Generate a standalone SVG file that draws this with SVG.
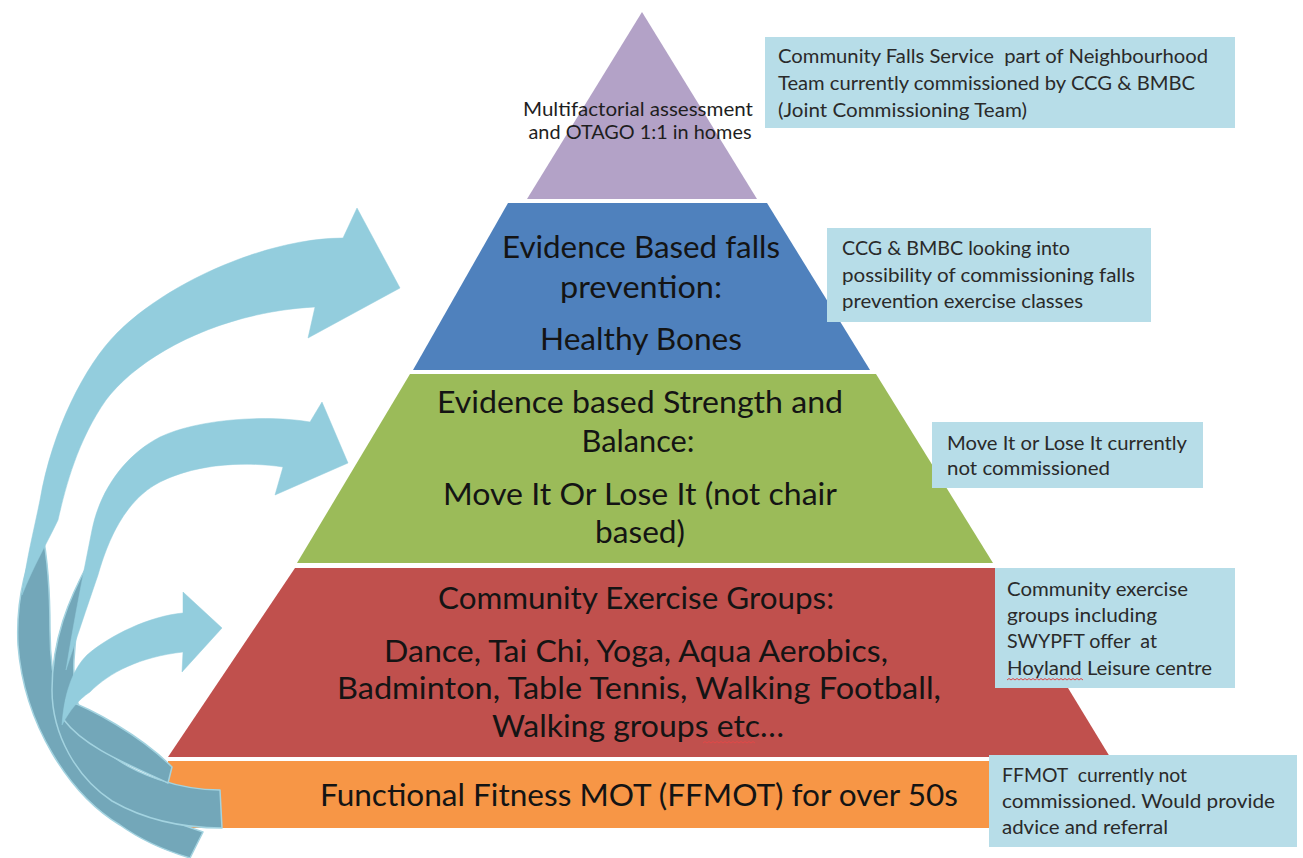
<svg xmlns="http://www.w3.org/2000/svg" width="1303" height="858" viewBox="0 0 1303 858">
  <style>
    text { font-family: Lato, "Liberation Sans", sans-serif; white-space: pre; }
    .lvl { font-size: 30px; fill: #141414; text-anchor: middle; }
    .top { font-size: 20px; fill: #1e1e1e; text-anchor: middle; }
    .note { font-size: 19.5px; fill: #2a2a2a; }
    .box { fill: #B7DDE8; }
    .back { fill: #73A7B9; stroke: #A3D3E0; stroke-width: 1.5; stroke-linejoin: round; }
    .front { fill: #93CDDD; stroke: #93CDDD; stroke-width: 0.5; stroke-linejoin: round; }
    .squiggle { fill: none; stroke: #E04848; stroke-width: 1; }
  </style>

  <rect x="0" y="0" width="1303" height="858" fill="#FFFFFF"/>

  <!-- pyramid tiers -->
  <g id="tier-multifactorial">
    <polygon points="642,12 757,199 527,199" fill="#B3A2C7"/>
    <text class="top" x="638" y="116" textLength="230" lengthAdjust="spacingAndGlyphs">Multifactorial assessment</text>
    <text class="top" x="640" y="139" textLength="223" lengthAdjust="spacingAndGlyphs">and OTAGO 1:1 in homes</text>
  </g>

  <g id="tier-healthy-bones">
    <polygon points="508,203 767,203 870,370 413,370" fill="#4F81BD"/>
    <text class="lvl" x="641" y="258" textLength="278" lengthAdjust="spacingAndGlyphs">Evidence Based falls</text>
    <text class="lvl" x="641" y="298" textLength="162" lengthAdjust="spacingAndGlyphs">prevention:</text>
    <text class="lvl" x="641" y="350" textLength="202" lengthAdjust="spacingAndGlyphs">Healthy Bones</text>
  </g>

  <g id="tier-strength-balance">
    <polygon points="410,374 876,374 993,563 297,563" fill="#9BBB59"/>
    <text class="lvl" x="640" y="413" textLength="406" lengthAdjust="spacingAndGlyphs">Evidence based Strength and</text>
    <text class="lvl" x="638" y="452" textLength="113" lengthAdjust="spacingAndGlyphs">Balance:</text>
    <text class="lvl" x="640" y="505" textLength="394" lengthAdjust="spacingAndGlyphs">Move It Or Lose It (not chair</text>
    <text class="lvl" x="640" y="543" textLength="90" lengthAdjust="spacingAndGlyphs">based)</text>
  </g>

  <g id="tier-community-exercise">
    <polygon points="295,568 995,568 1110,757 168,757" fill="#C0504D"/>
    <text class="lvl" x="636" y="609" textLength="396" lengthAdjust="spacingAndGlyphs">Community Exercise Groups:</text>
    <text class="lvl" x="636" y="662" textLength="504" lengthAdjust="spacingAndGlyphs">Dance, Tai Chi, Yoga, Aqua Aerobics,</text>
    <text class="lvl" x="639" y="699" textLength="604" lengthAdjust="spacingAndGlyphs">Badminton, Table Tennis, Walking Football,</text>
    <text class="lvl" x="638" y="737" textLength="292" lengthAdjust="spacingAndGlyphs">Walking groups etc…</text>
    <path class="squiggle" d="M703,743 l2,-1.5 l2,1.5 l2,-1.5 l2,1.5 l2,-1.5 l2,1.5 l2,-1.5 l2,1.5 l2,-1.5 l2,1.5 l2,-1.5 l2,1.5 l2,-1.5 l2,1.5 l2,-1.5 l2,1.5 l2,-1.5 l2,1.5 l2,-1.5 l2,1.5 l2,-1.5 l2,1.5 l2,-1.5 l2,1.5 l2,-1.5 l2,1.5"/>
  </g>

  <g id="tier-ffmot">
    <rect x="168" y="761" width="942" height="67" fill="#F79646"/>
    <text class="lvl" x="639" y="806" textLength="638" lengthAdjust="spacingAndGlyphs">Functional Fitness MOT (FFMOT) for over 50s</text>
  </g>

  <!-- commissioning notes -->
  <g id="note-falls-service">
    <rect class="box" x="765" y="37" width="470" height="91"/>
    <text class="note" x="778" y="63" textLength="430" lengthAdjust="spacingAndGlyphs">Community Falls Service  part of Neighbourhood</text>
    <text class="note" x="778" y="90" textLength="417" lengthAdjust="spacingAndGlyphs">Team currently commissioned by CCG &amp; BMBC</text>
    <text class="note" x="778" y="117" textLength="249" lengthAdjust="spacingAndGlyphs">(Joint Commissioning Team)</text>
  </g>

  <g id="note-falls-prevention">
    <rect class="box" x="827" y="228" width="324" height="94"/>
    <text class="note" x="842" y="255" textLength="228" lengthAdjust="spacingAndGlyphs">CCG &amp; BMBC looking into</text>
    <text class="note" x="842" y="282" textLength="293" lengthAdjust="spacingAndGlyphs">possibility of commissioning falls</text>
    <text class="note" x="842" y="308" textLength="241" lengthAdjust="spacingAndGlyphs">prevention exercise classes</text>
  </g>

  <g id="note-move-it">
    <rect class="box" x="932" y="422" width="271" height="66"/>
    <text class="note" x="947" y="450" textLength="240" lengthAdjust="spacingAndGlyphs">Move It or Lose It currently</text>
    <text class="note" x="947" y="475" textLength="163" lengthAdjust="spacingAndGlyphs">not commissioned</text>
  </g>

  <g id="note-community-groups">
    <rect class="box" x="995" y="568" width="240" height="120"/>
    <text class="note" x="1007" y="596" textLength="181" lengthAdjust="spacingAndGlyphs">Community exercise</text>
    <text class="note" x="1007" y="622" textLength="150" lengthAdjust="spacingAndGlyphs">groups including</text>
    <text class="note" x="1007" y="648" textLength="150" lengthAdjust="spacingAndGlyphs">SWYPFT offer  at</text>
    <text class="note" x="1007" y="675" textLength="205" lengthAdjust="spacingAndGlyphs">Hoyland Leisure centre</text>
    <path class="squiggle" d="M1007,680 l2,-1.5 l2,1.5 l2,-1.5 l2,1.5 l2,-1.5 l2,1.5 l2,-1.5 l2,1.5 l2,-1.5 l2,1.5 l2,-1.5 l2,1.5 l2,-1.5 l2,1.5 l2,-1.5 l2,1.5 l2,-1.5 l2,1.5 l2,-1.5 l2,1.5 l2,-1.5 l2,1.5 l2,-1.5 l2,1.5 l2,-1.5 l2,1.5 l2,-1.5 l2,1.5 l2,-1.5 l2,1.5 l2,-1.5 l2,1.5 l2,-1.5 l2,1.5 l2,-1.5 l2,1.5 l2,-1.5 l2,1.5"/>
  </g>

  <g id="note-ffmot">
    <rect class="box" x="989" y="755" width="308" height="92"/>
    <text class="note" x="1002" y="782" textLength="185" lengthAdjust="spacingAndGlyphs">FFMOT  currently not</text>
    <text class="note" x="1002" y="808" textLength="273" lengthAdjust="spacingAndGlyphs">commissioned. Would provide</text>
    <text class="note" x="1002" y="834" textLength="166" lengthAdjust="spacingAndGlyphs">advice and referral</text>
  </g>

  <!-- curved ribbon arrows sweeping up from the base tier -->
  <g id="arrows">
    <!-- outer arrow, up to Healthy Bones -->
    <path class="back" d="M42,530 C24,565 16,605 18,645 C24,725 70,795 120,825 C145,843 170,852 190,858 L203,832 C150,815 112,792 88,762 C62,728 50,685 50,630 C50,590 48,560 42,530 Z"/>
    <path class="front" d="M343,238 C270,238 170,280 117,333 C85,365 52,430 40,500 C34,530 26,560 22,595 C34,565 46,545 58,520 C66,485 78,440 106,400 C140,355 220,312 315,307 L308,338 L400,288 L357,208 Z"/>

    <!-- middle arrow, up to Strength and Balance -->
    <path class="back" d="M90,560 C68,600 52,640 52,690 C52,735 77,778 112,801 C147,821 185,828 222,828 L220,790 C180,790 135,775 107,752 C84,732 72,700 74,660 C76,620 82,590 90,560 Z"/>
    <path class="front" d="M310,422 C270,415 200,418 160,437 C125,455 100,490 92,530 C84,570 74,620 66,670 C76,640 86,610 98,575 C108,540 125,500 160,482 C200,462 250,462 283,467 L275,495 L348,463 L322,402 Z"/>

    <!-- inner arrow, up to Community Exercise Groups -->
    <path class="back" d="M66,700 C90,708 140,735 172,767 L168,783 C130,765 85,748 64,720 Z"/>
    <path class="front" d="M183,613 C150,616 110,635 87,655 C72,670 64,695 62,725 C70,710 78,700 90,692 C110,672 140,657 183,652 L182,672 L222,628 L183,592 Z"/>
  </g>
</svg>
